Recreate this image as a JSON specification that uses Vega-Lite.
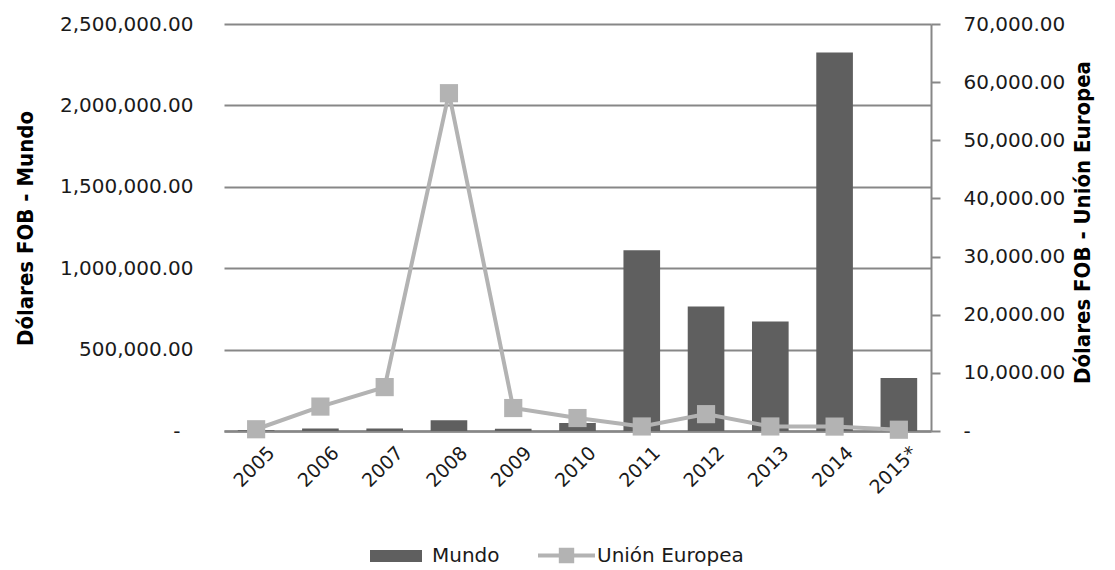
{
  "$schema": "https://vega.github.io/schema/vega-lite/v6.json",
  "width": 707,
  "height": 407,
  "autosize": {"type": "none"},
  "padding": {"left": 224, "top": 24, "right": 184, "bottom": 139},
  "background": "white",
  "config": {
    "view": {"stroke": null},
    "font": "DejaVu Sans",
    "axis": {"labelFont": "DejaVu Sans", "labelFontSize": 20, "labelColor": "#1a1a1a", "titleFont": "DejaVu Sans Condensed, DejaVu Sans", "titleFontWeight": "bold", "titleFontSize": 22, "titleColor": "#000000"}
  },
  "data": {
    "values": [
      {"year": "2005", "mundo": 5000, "ue": 300},
      {"year": "2006", "mundo": 15000, "ue": 4200},
      {"year": "2007", "mundo": 15000, "ue": 7550},
      {"year": "2008", "mundo": 66000, "ue": 58100},
      {"year": "2009", "mundo": 14000, "ue": 3950},
      {"year": "2010", "mundo": 49000, "ue": 2230},
      {"year": "2011", "mundo": 1110000, "ue": 780},
      {"year": "2012", "mundo": 764000, "ue": 2900},
      {"year": "2013", "mundo": 672000, "ue": 780},
      {"year": "2014", "mundo": 2325000, "ue": 760},
      {"year": "2015*", "mundo": 325000, "ue": 220}
    ]
  },
  "encoding": {
    "x": {
      "field": "year", "type": "nominal", "sort": null,
      "scale": {"paddingInner": 0.43, "paddingOuter": 0.215},
      "axis": {"title": null, "labelAngle": -45, "ticks": false, "domainColor": "#878787", "domainWidth": 2.5, "labelPadding": 12, "labelOffset": 9, "labelFontSize": 19}
    }
  },
  "layer": [
    {
      "mark": {"type": "bar"},
      "encoding": {
        "y": {
          "field": "mundo", "type": "quantitative",
          "scale": {"domain": [0, 2500000], "nice": false},
          "axis": {
            "title": "Dólares FOB - Mundo",
            "values": [0, 500000, 1000000, 1500000, 2000000, 2500000],
            "labelExpr": "datum.value == 0 ? '-' : format(datum.value, ',.2f')",
            "ticks": false, "domain": false,
            "labelPadding": {"condition": {"test": "datum.value == 0", "value": 44}, "value": 31},
            "grid": true, "gridColor": "#878787", "gridWidth": 2,
            "titleAngle": -90, "titleX": -199, "titleY": 204, "titleAlign": "center", "titleBaseline": "middle"
          }
        },
        "fill": {
          "datum": "Mundo",
          "scale": {"range": ["#5f5f5f"]},
          "legend": {
            "orient": "none", "legendX": 146, "legendY": 506, "title": null,
            "symbolType": "M-1,-0.23L1,-0.23L1,0.23L-1,0.23Z", "symbolSize": 2704,
            "symbolStrokeWidth": 0, "labelFontSize": 20, "labelFont": "DejaVu Sans", "labelColor": "#1a1a1a", "labelOffset": 10, "padding": 0
          }
        }
      }
    },
    {
      "mark": {"type": "line", "strokeWidth": 4, "color": "#b3b3b3"},
      "encoding": {
        "y": {
          "field": "ue", "type": "quantitative",
          "scale": {"domain": [0, 70000], "nice": false},
          "axis": {
            "orient": "right", "title": "Dólares FOB - Unión Europea",
            "values": [0, 10000, 20000, 30000, 40000, 50000, 60000, 70000],
            "labelExpr": "datum.value == 0 ? '-' : format(datum.value, ',.2f')",
            "ticks": true, "tickSize": 9, "tickColor": "#878787", "tickWidth": 2,
            "domain": true, "domainColor": "#878787", "domainWidth": 2,
            "labelPadding": 23, "grid": false,
            "titleAngle": -90, "titleX": 151, "titleY": 198, "titleAlign": "center", "titleBaseline": "middle"
          }
        },
        "stroke": {
          "datum": "Unión Europea",
          "scale": {"range": ["#b3b3b3"]},
          "legend": {
            "orient": "none", "legendX": 314, "legendY": 503, "title": null,
            "symbolType": "M-1,-0.07L1,-0.07L1,0.07L-1,0.07Z M-0.27,-0.27L0.27,-0.27L0.27,0.27L-0.27,0.27Z",
            "symbolSize": 3249, "symbolFillColor": "#b3b3b3", "symbolStrokeWidth": 0,
            "labelFontSize": 20, "labelFont": "DejaVu Sans", "labelColor": "#1a1a1a", "labelOffset": 2, "padding": 0,
            "encode": {"symbols": {"update": {"fill": {"value": "#b3b3b3"}, "strokeWidth": {"value": 0}}}}
          }
        }
      }
    },
    {
      "mark": {"type": "point", "shape": "square", "filled": true, "size": 330, "color": "#b3b3b3", "opacity": 1},
      "encoding": {
        "y": {"field": "ue", "type": "quantitative", "scale": {"domain": [0, 70000], "nice": false}, "axis": null}
      }
    }
  ],
  "resolve": {"scale": {"y": "independent"}}
}
